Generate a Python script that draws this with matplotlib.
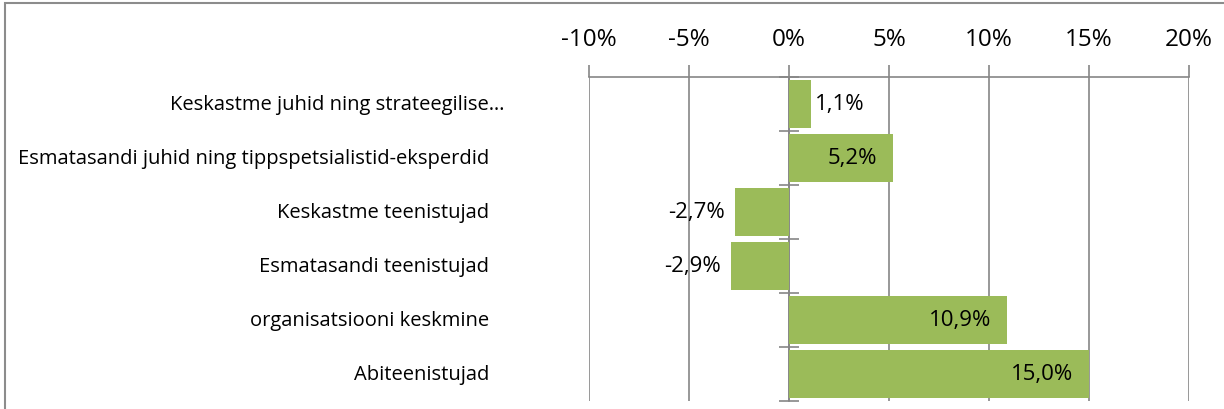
import numpy as np
import matplotlib.pyplot as plt
from matplotlib.patches import Rectangle
from matplotlib.ticker import FixedLocator

#%% Data:

categories = ['Keskastme juhid ning strateegilise…',
              'Esmatasandi juhid ning tippspetsialistid-eksperdid',
              'Keskastme teenistujad',
              'Esmatasandi teenistujad',
              'organisatsiooni keskmine',
              'Abiteenistujad']
values = [1.1, 5.2, -2.7, -2.9, 10.9, 15.0]  # [%]
x_ticks = [-10, -5, 0, 5, 10, 15, 20]

#%% Style:

plt.rcParams['font.family'] = ['Open Sans', 'DejaVu Sans']
plt.rcParams['axes.unicode_minus'] = False
bar_color = '#9BBB59'
grid_color = '#868686'
fs_cat = 14.5
fs_val = 16
fs_tick = 17.5

W, H = 1224, 410
fig = plt.figure(figsize=(W/100, H/100), dpi=100)
ax = fig.add_axes([589/W, 1 - 402/H, 600/W, 324/H])

# Figure border (cut at right and bottom like the screenshot)
fig.patches.append(Rectangle((5/W, -0.1), 1.2, 1 - 4/H + 0.1,
                             transform=fig.transFigure, fill=False,
                             edgecolor='#8c8c8c', linewidth=1.5))

y = np.arange(len(categories))
ax.barh(y, values, height=0.88, color=bar_color, zorder=3)

ax.set_xlim(-10, 20)
ax.set_ylim(len(categories) - 0.5, -0.5)

# x axis on top
ax.xaxis.tick_top()
ax.set_xticks(x_ticks)
ax.set_xticklabels(['%d%%' % t for t in x_ticks], fontsize=fs_tick)
ax.tick_params(axis='x', direction='out', length=9, width=1.2,
               color=grid_color, pad=10)
for t in x_ticks:
    ax.axvline(t, color=grid_color, linewidth=1.2, zorder=1)

for s in ['left', 'right', 'bottom']:
    ax.spines[s].set_visible(False)
ax.spines['top'].set_color(grid_color)
ax.spines['top'].set_linewidth(1.2)

# y axis at 0 with cross ticks at category boundaries
ax.set_yticks([])
ax.yaxis.set_minor_locator(FixedLocator(np.arange(len(categories) + 1) - 0.5))
ax.spines['left'].set_visible(True)
ax.spines['left'].set_position(('data', 0))
ax.spines['left'].set_color(grid_color)
ax.spines['left'].set_linewidth(1.2)
ax.tick_params(axis='y', which='minor', direction='inout', length=14,
               width=1.2, color=grid_color)

# Category labels
for i, name in enumerate(categories):
    off = 16 if name.endswith('…') else 0
    ax.annotate(name, xy=(0, i), xycoords=('axes fraction', 'data'),
                xytext=(-100 + off, 0), textcoords='offset pixels',
                ha='right', va='center', fontsize=fs_cat)

# Value labels
for i, v in enumerate(values):
    txt = ('%.1f%%' % v).replace('.', ',')
    if v < 0:
        ax.annotate(txt, xy=(v, i), xytext=(-10, 0), textcoords='offset pixels',
                    ha='right', va='center', fontsize=fs_val)
    elif v < 3:
        ax.annotate(txt, xy=(v, i), xytext=(4, 0), textcoords='offset pixels',
                    ha='left', va='center', fontsize=fs_val)
    else:
        ax.annotate(txt, xy=(v, i), xytext=(-16, 0), textcoords='offset pixels',
                    ha='right', va='center', fontsize=fs_val, zorder=4)

fig.savefig('out.png', dpi=100)
